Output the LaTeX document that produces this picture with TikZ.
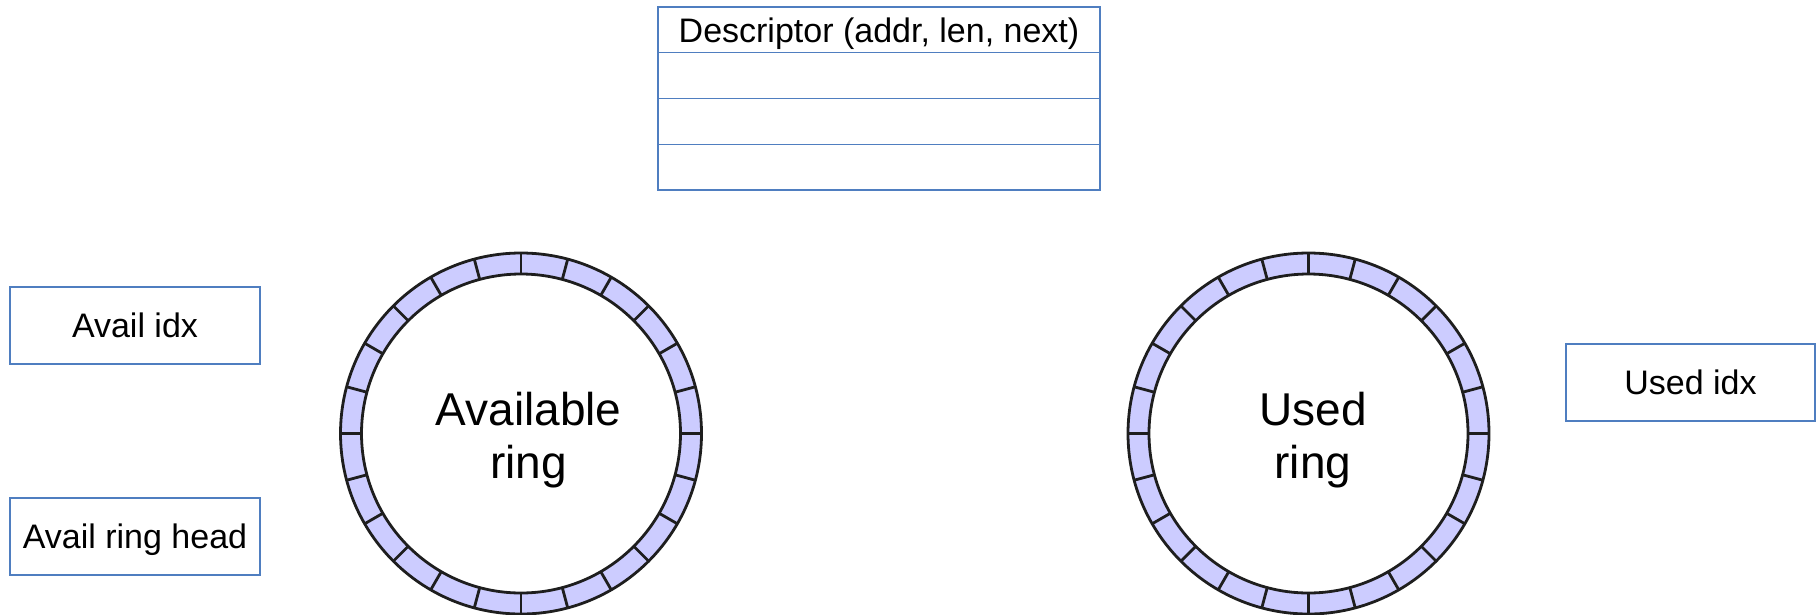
\documentclass[tikz,border=0pt]{standalone}
\usepackage{fontspec}
\setmainfont{Liberation Sans}
\usetikzlibrary{calc}
\definecolor{boxblue}{HTML}{4F7EC0}
\definecolor{ringfill}{HTML}{CCCCFF}
\definecolor{ringline}{HTML}{1E1E1E}
\begin{document}
\begin{tikzpicture}[x=1pt,y=-1pt,
  box/.style={draw=boxblue, line width=1.3pt, inner sep=0pt,
    minimum width=250pt, minimum height=77pt,
    text height=24.5pt, text depth=0pt,
    font=\fontsize{34}{40}\selectfont},
  descrow/.style={draw=boxblue, line width=1.3pt, inner sep=0pt,
    minimum width=442pt, minimum height=45.75pt,
    text height=24.5pt, text depth=0pt,
    font=\fontsize{34}{40}\selectfont},
  ringlabel/.style={align=center, inner sep=0pt,
    font=\fontsize{46}{52.5}\selectfont},
  ringband/.style={fill=ringfill, even odd rule},
  ringstroke/.style={draw=ringline, line width=2.8pt}
]
\useasboundingbox (0,0) rectangle (1817,614);

% descriptor table
\node[descrow] (desc0) at (879,29.9) {Descriptor (addr, len, next)};
\node[descrow] (desc1) at (879,75.6) {};
\node[descrow] (desc2) at (879,121.4) {};
\node[descrow] (desc3) at (879,167.1) {};

% index boxes
\node[box] (availidx) at (135,325.5) {Avail idx};
\node[box] (availhead) at (135,536.5) {Avail ring head};
\node[box, minimum width=249pt] (usedidx) at (1690.5,382.5) {Used idx};

% rings
\foreach \name/\cx in {avring/521, usring/1308.5} {
  \coordinate (\name) at (\cx,433.5);
  \fill[ringband] (\name) circle (180.5pt) (\name) circle (159.5pt);
  \draw[ringstroke] (\name) circle (180.5pt);
  \draw[ringstroke] (\name) circle (159.5pt);
  \foreach \a in {0,15,...,345}
    \draw[ringstroke] ($(\name)+(\a:159.5pt)$) -- ($(\name)+(\a:180.5pt)$);
}

\node[ringlabel] (avlabel) at (528.5,440) {Available\\ring};
\node[ringlabel] (uslabel) at (1313,440) {Used\\ring};
\end{tikzpicture}
\end{document}
